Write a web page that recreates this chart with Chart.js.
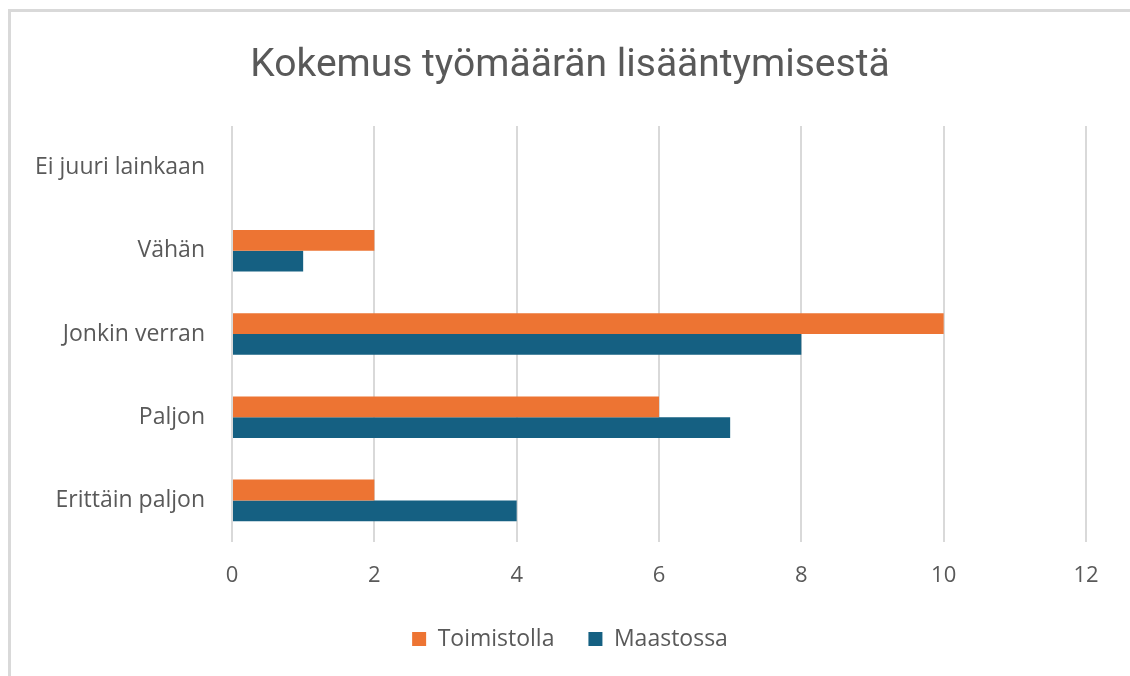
<!DOCTYPE html>
<html>
<head>
<meta charset="utf-8">
<script src="https://cdn.jsdelivr.net/npm/chart.js@4"></script>
<style>
html,body{margin:0;padding:0;background:#fff;overflow:hidden;}
#wrap{position:absolute;left:0;top:0;width:1130px;height:676px;overflow:hidden;}
#frame{position:absolute;left:8px;top:9px;width:1200px;height:800px;border-top:3px solid #d9d9d9;border-left:3px solid #d9d9d9;box-sizing:border-box;pointer-events:none;}
canvas{position:absolute;left:0;top:0;}
</style>
</head>
<body>
<div id="wrap"><canvas id="c" width="1130" height="676"></canvas><div id="frame"></div></div>
<script>
const categories = ["Ei juuri lainkaan", "Vähän", "Jonkin verran", "Paljon", "Erittäin paljon"];
const toimistolla = [0, 2, 10, 6, 2];
const maastossa = [0, 1, 8, 7, 4];
const seriesNames = ["Toimistolla", "Maastossa"];
const xMin = 0, xMax = 12, xStep = 2;
const titleText = "Kokemus työmäärän lisääntymisestä";

const FONT = "'Open Sans', 'Noto Sans', sans-serif";
const GRAY = "#595959";

new Chart(document.getElementById('c'), {
  type: 'bar',
  data: {
    labels: categories,
    datasets: [
      { label: seriesNames[0], data: toimistolla, backgroundColor: '#ed7433', borderWidth: 0 },
      { label: seriesNames[1], data: maastossa, backgroundColor: '#156082', borderWidth: 0 }
    ]
  },
  options: {
    indexAxis: 'y',
    responsive: false,
    animation: false,
    devicePixelRatio: 1,
    categoryPercentage: 0.5,
    barPercentage: 1.0,
    layout: { padding: { left: 10, right: 0, top: 0, bottom: 15.5 } },
    plugins: {
      title: {
        display: true,
        text: titleText,
        color: GRAY,
        font: { family: "Roboto, 'Open Sans', sans-serif", size: 39, weight: 'normal' },
        padding: { top: 42.6, bottom: 36.6 }
      },
      legend: {
        position: 'bottom',
        labels: {
          color: GRAY,
          font: { family: FONT, size: 23 },
          boxWidth: 14, boxHeight: 14,
          padding: 34
        }
      },
      tooltip: { enabled: false }
    },
    scales: {
      x: {
        min: xMin, max: xMax,
        ticks: { stepSize: xStep, color: GRAY, font: { family: FONT, size: 22 }, padding: 21 },
        grid: { color: '#d9d9d9', lineWidth: 2, drawTicks: false },
        border: { display: false },
        afterFit: s => { s.height = 51.5; }
      },
      y: {
        ticks: { color: GRAY, font: { family: FONT, size: 23 }, padding: 27 },
        grid: { display: false, drawTicks: false },
        border: { display: false },
        afterFit: s => { s.width = 222; }
      },
      yRight: {
        type: 'category',
        position: 'right',
        display: true,
        ticks: { display: false },
        grid: { display: false, drawTicks: false },
        border: { display: false },
        afterFit: s => { s.width = 44; }
      }
    }
  }
});
</script>
</body>
</html>
